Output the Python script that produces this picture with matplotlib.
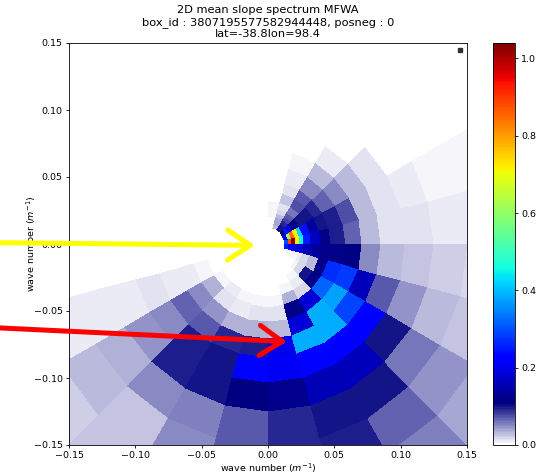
import numpy as np
import matplotlib
matplotlib.use("Agg")
import matplotlib.pyplot as plt
from matplotlib.colors import ListedColormap


# ===============================
# Data
# ===============================

# radial wave number bin edges (m^-1)
k_edges = [0.0126, 0.0155, 0.0183, 0.0212, 0.0240, 0.0272, 0.0327, 0.0397,
           0.0474, 0.0585, 0.0708, 0.0852, 0.1035, 0.1250, 0.1505, 0.1810,
           0.2180]

# direction bin edges (degrees, counter-clockwise from +x)
dir_edges_deg = np.arange(-180, 181, 15)

# mean slope spectrum, one row per 15 deg direction bin (from -180 deg),
# one value per wave number bin
spec_by_dir = [
    [0, 0, 0, 0, 0, 0, 0, 0, 0, 0, 0, 0, 0, 0, 0, 0],                                   # -180..-165
    [0, 0, 0, 0, 0, 0, 0, 0, 0.005, 0.010, 0.012, 0.015, 0.012, 0.010, 0.012, 0.015],    # -165..-150
    [0, 0, 0, 0, 0, 0, 0, 0.006, 0.035, 0.050, 0.065, 0.050, 0.045, 0.035, 0.030, 0.022],  # -150..-135
    [0, 0, 0, 0, 0, 0, 0.004, 0.010, 0.015, 0.045, 0.070, 0.095, 0.095, 0.050, 0.028, 0.026],  # -135..-120
    [0, 0, 0, 0, 0, 0, 0, 0.005, 0.012, 0.035, 0.090, 0.100, 0.100, 0.055, 0.050, 0.040],  # -120..-105
    [0, 0, 0, 0, 0, 0, 0, 0.007, 0.015, 0.035, 0.095, 0.230, 0.110, 0.070, 0.070, 0.060],  # -105..-90
    [0, 0, 0, 0, 0, 0, 0, 0.005, 0.015, 0.030, 0.200, 0.210, 0.125, 0.090, 0.090, 0.075],  # -90..-75
    [0, 0, 0, 0, 0, 0, 0.008, 0.035, 0.120, 0.180, 0.385, 0.230, 0.155, 0.100, 0.095, 0.080],  # -75..-60
    [0, 0, 0, 0, 0, 0.005, 0.010, 0.020, 0.180, 0.385, 0.385, 0.220, 0.160, 0.100, 0.065, 0.055],  # -60..-45
    [0, 0, 0, 0, 0.005, 0.020, 0.100, 0.120, 0.320, 0.375, 0.290, 0.220, 0.100, 0.060, 0.045, 0.040],  # -45..-30
    [0, 0.005, 0.005, 0.008, 0.012, 0.020, 0.030, 0.120, 0.270, 0.280, 0.160, 0.070, 0.045, 0.030, 0.028, 0.025],  # -30..-15
    [0.250, 0.230, 0.210, 0.190, 0.180, 0.160, 0.140, 0.125, 0.120, 0.115, 0.050, 0.030, 0.025, 0.022, 0.020, 0.020],  # -15..0
    [0.300, 0.880, 1.040, 0.720, 0.450, 0.250, 0.170, 0.120, 0.095, 0.065, 0.030, 0.013, 0.013, 0.012, 0.012, 0.012],  # 0..15
    [0.200, 0.600, 0.850, 0.720, 0.420, 0.240, 0.140, 0.100, 0.095, 0.075, 0.030, 0.015, 0.010, 0.008, 0.008, 0.008],  # 15..30
    [0.120, 0.250, 0.200, 0.130, 0.110, 0.100, 0.100, 0.090, 0.065, 0.050, 0.030, 0.015, 0, 0, 0, 0],  # 30..45
    [0.100, 0.100, 0.090, 0.080, 0.070, 0.060, 0.075, 0.070, 0.050, 0.030, 0.010, 0, 0, 0, 0, 0],  # 45..60
    [0.030, 0.040, 0.040, 0.030, 0.020, 0.015, 0.025, 0.015, 0.010, 0.006, 0, 0, 0, 0, 0, 0],  # 60..75
    [0, 0, 0.004, 0.005, 0.006, 0.006, 0.004, 0, 0, 0, 0, 0, 0, 0, 0, 0],  # 75..90
    [0] * 16, [0] * 16, [0] * 16, [0] * 16, [0] * 16, [0] * 16,  # 90..180
]

cbar_ticks = [0.0, 0.2, 0.4, 0.6, 0.8, 1.0]
axis_ticks = [-0.15, -0.10, -0.05, 0.00, 0.05, 0.10, 0.15]

title_lines = ["2D mean slope spectrum MFWA",
               "box_id : 3807195577582944448, posneg : 0",
               "lat=-38.8lon=98.4"]

# annotation arrows (start, tip) in data units
yellow_arrow = ((-0.205, 0.001), (-0.010, -0.001))
red_arrow = ((-0.205, -0.0625), (0.0141, -0.0729))
marker_pos = (0.1447, 0.1448)


# ===============================
# Colormap: white -> navy, then jet
# ===============================

def build_cmap():
    jet = plt.get_cmap("jet")
    low = np.linspace([1.0, 1.0, 1.0, 1.0], jet(0.0), 27)
    high = jet(np.linspace(0, 1, 229))
    return ListedColormap(np.vstack([low, high]))


# ===============================
# Plot
# ===============================

def main():
    plt.rcParams["font.size"] = 6.8
    plt.rcParams["axes.linewidth"] = 0.6
    for ax_name in ("xtick", "ytick"):
        plt.rcParams[f"{ax_name}.major.size"] = 2.4
        plt.rcParams[f"{ax_name}.major.width"] = 0.6
        plt.rcParams[f"{ax_name}.major.pad"] = 2.2

    fig = plt.figure(figsize=(5.39, 4.74), dpi=100)
    ax = fig.add_axes([69 / 539, 29 / 474, 398 / 539, 402 / 474])
    cax = fig.add_axes([493 / 539, 29 / 474, 22 / 539, 402 / 474])

    phi, kk = np.meshgrid(np.deg2rad(dir_edges_deg), np.array(k_edges))
    X = kk * np.cos(phi)
    Y = kk * np.sin(phi)
    C = np.array(spec_by_dir, dtype=float).T

    mesh = ax.pcolormesh(X, Y, C, cmap=build_cmap(), vmin=0, vmax=C.max(),
                         shading="flat")

    ax.plot(*marker_pos, "s", color="#333333", ms=3.5)

    for (start, tip), col in ((yellow_arrow, "yellow"), (red_arrow, "red")):
        ax.annotate("", xy=tip, xytext=start, annotation_clip=False,
                    arrowprops=dict(arrowstyle="->,head_length=0.45,head_width=0.3",
                                    color=col, lw=3.6, mutation_scale=36,
                                    shrinkA=0, shrinkB=0))

    ax.set_xlim(-0.15, 0.15)
    ax.set_ylim(-0.15, 0.15)
    ax.set_xticks(axis_ticks)
    ax.set_yticks(axis_ticks)
    ax.set_xlabel("wave number ($m^{-1}$)", labelpad=1)
    ax.set_ylabel("wave number ($m^{-1}$)")
    ax.yaxis.set_label_coords(-0.078, 0.5)
    ax.set_title("\n".join(title_lines), pad=4)

    cb = fig.colorbar(mesh, cax=cax)
    cb.set_ticks(cbar_ticks)
    cb.outline.set_linewidth(0.6)

    fig.savefig("out.png", dpi=100)


if __name__ == "__main__":
    main()
